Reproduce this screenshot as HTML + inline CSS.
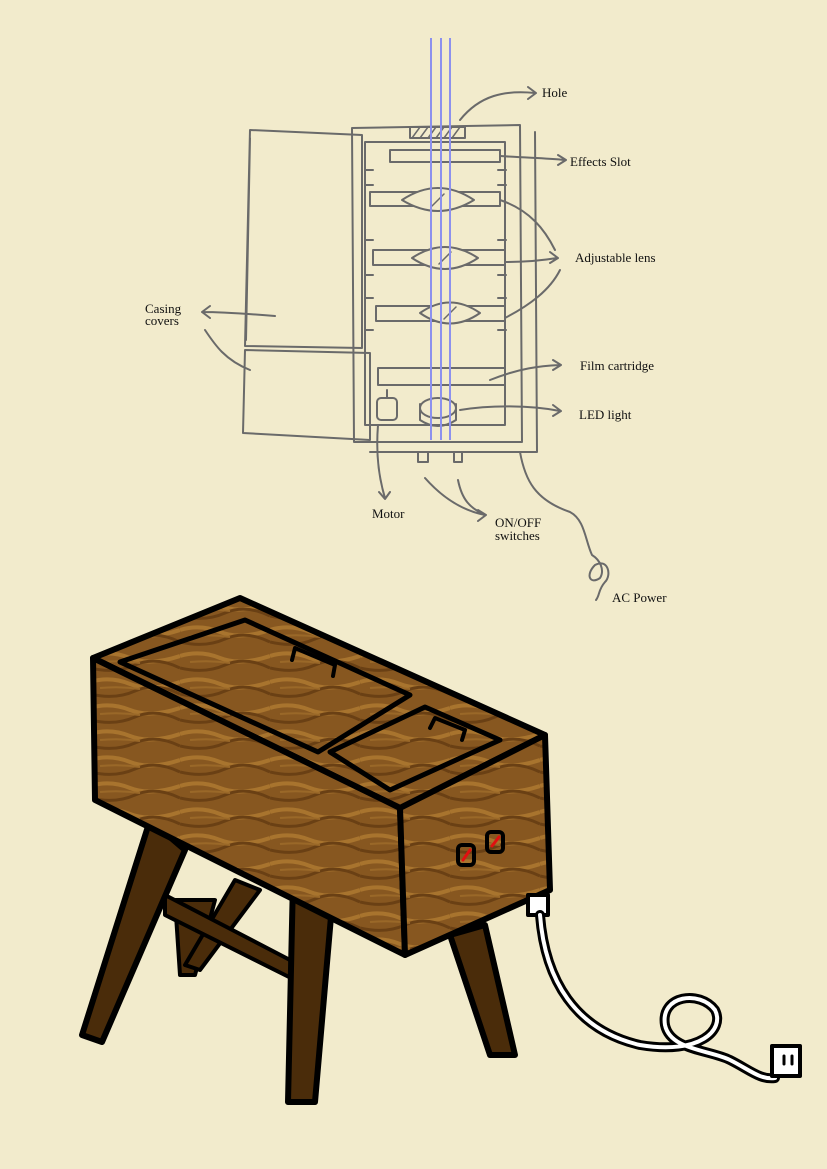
<!DOCTYPE html>
<html><head><meta charset="utf-8"><style>
html,body{margin:0;padding:0;background:#f2ebcc;}
svg{display:block}
text{font-family:"Liberation Serif",serif;font-size:13px;fill:#111;}
</style></head><body>
<svg width="827" height="1169" viewBox="0 0 827 1169" xmlns="http://www.w3.org/2000/svg">
<rect width="827" height="1169" fill="#f2ebcc"/>
<g fill="none" stroke="#6a6a6a" stroke-width="2" stroke-linejoin="round" stroke-linecap="round">
<path d="M250,130 L362,135 L362,348 L245,346 Z M250,138 L246,340"/>
<path d="M245,350 L370,353 L370,440 L243,433 Z"/>
<path d="M352,128 L520,125 L522,442 L354,442 Z"/>
<path d="M365,142 L505,142 L505,425 L365,425 Z"/>
<path d="M535,132 L537,452 L370,452"/>
<rect x="410" y="127" width="55" height="11" fill="#f2ebcc"/>
<path d="M412,138 L420,127 M420,138 L428,127 M428,138 L436,127 M436,138 L444,127 M444,138 L452,127 M452,138 L460,127" stroke-width="1.5"/>
<rect x="390" y="150" width="110" height="12"/>
<path d="M370,192 L500,192 L500,206 L370,206 Z"/>
<path d="M373,250 L505,250 L505,265 L373,265 Z"/>
<path d="M376,306 L505,306 L505,321 L376,321 Z"/>
<path d="M365,170 h8 M365,185 h8 M365,240 h8 M365,275 h8 M365,298 h8 M365,330 h8 M498,170 h8 M498,185 h8 M498,240 h8 M498,275 h8 M498,298 h8 M498,330 h8"/>
<path d="M402,200 Q438,176 474,200 Q438,222 402,200 Z" fill="#f2ebcc"/>
<path d="M412,258 Q445,236 478,258 Q445,280 412,258 Z" fill="#f2ebcc"/>
<path d="M420,313 Q450,292 480,313 Q450,334 420,313 Z" fill="#f2ebcc"/>
<path d="M432,206 L444,194 M439,264 L451,252 M444,319 L456,307" stroke-width="1.5"/>
<rect x="378" y="368" width="127" height="17"/>
<ellipse cx="438" cy="408" rx="18" ry="10"/>
<path d="M420,404 L420,420 Q438,432 456,420 L456,404"/>
<rect x="377" y="398" width="20" height="22" rx="4"/>
<path d="M387,398 L387,390"/>
<rect x="418" y="452" width="10" height="10"/><rect x="454" y="452" width="8" height="10"/>
<path d="M460,120 C480,95 505,90 535,93 M528,87 L536,93 L528,99"/>
<path d="M500,156 C530,158 545,158 565,160 M558,155 L566,160 L558,165"/>
<path d="M500,200 C530,210 545,230 555,250 M505,262 C530,262 545,260 557,258 M550,252 L558,258 L550,263 M505,318 C530,305 550,290 560,270"/>
<path d="M275,316 C250,314 220,312 203,312 M210,306 L202,312 L210,318 M250,370 C225,360 215,345 205,330"/>
<path d="M490,380 C520,368 540,366 560,365 M553,360 L561,365 L553,370"/>
<path d="M460,410 C490,405 530,405 560,411 M553,405 L561,411 L553,416"/>
<path d="M378,425 C376,450 378,475 385,498 M379,492 L385,499 L390,492"/>
<path d="M425,478 C440,495 460,510 485,515 M458,480 C462,500 470,508 485,515 M478,510 L486,515 L478,521"/>
<path d="M520,452 C525,480 535,500 570,512 C585,520 585,540 592,555 C600,560 605,570 600,578 C590,585 585,575 595,565 C608,558 612,575 605,582 C598,590 600,595 596,600"/>
</g>
<g stroke="#8c90ee" stroke-width="2">
<line x1="431" y1="38" x2="431" y2="440"/>
<line x1="441" y1="38" x2="441" y2="440"/>
<line x1="450" y1="38" x2="450" y2="440"/>
</g>
<text x="542" y="97">Hole</text>
<text x="570" y="166">Effects Slot</text>
<text x="575" y="262">Adjustable lens</text>
<text x="145" y="313">Casing</text>
<text x="145" y="325">covers</text>
<text x="580" y="370">Film cartridge</text>
<text x="579" y="419">LED light</text>
<text x="372" y="518">Motor</text>
<text x="495" y="527">ON/OFF</text>
<text x="495" y="540">switches</text>
<text x="612" y="602">AC Power</text>

<defs>
<pattern id="wood" width="90" height="26" patternUnits="userSpaceOnUse">
<rect width="90" height="26" fill="#875720"/>
<path d="M0,6 Q20,0 40,8 T90,6" stroke="#a8742e" stroke-width="4" fill="none"/>
<path d="M0,18 Q25,24 45,15 T90,18" stroke="#6a4014" stroke-width="3" fill="none"/>
<path d="M10,12 Q30,10 50,13" stroke="#9a6828" stroke-width="2" fill="none"/>
</pattern>
</defs>
<g stroke="#000" stroke-width="6" stroke-linejoin="round" stroke-linecap="round">
<path d="M175,900 L180,975 L195,975 L215,900 Z" fill="#4a2c0a" stroke-width="4"/>
<path d="M235,880 L185,965 L200,970 L260,890 Z" fill="#4a2c0a" stroke-width="4"/>
<path d="M165,895 L290,960 L295,980 L165,915 Z" fill="#4a2c0a" stroke-width="4"/>
<path d="M150,820 L82,1035 L102,1042 L185,850 Z" fill="#4a2c0a"/>
<path d="M293,880 L288,1102 L315,1102 L332,905 Z" fill="#4a2c0a"/>
<path d="M450,935 L490,1055 L515,1055 L485,925 Z" fill="#4a2c0a"/>
<path d="M93,658 L240,598 L545,735 L400,808 Z" fill="url(#wood)"/>
<path d="M93,658 L400,808 L405,955 L95,800 Z" fill="url(#wood)"/>
<path d="M400,808 L545,735 L550,890 L405,955 Z" fill="url(#wood)"/>
<path d="M120,662 L245,620 L410,695 L318,752 Z" fill="none" stroke-width="5"/>
<path d="M330,752 L425,707 L500,740 L390,790 Z" fill="none" stroke-width="5"/>
<path d="M292,660 L295,648 L335,665 L333,676" fill="none" stroke-width="4"/>
<path d="M430,728 L435,718 L465,730 L462,740" fill="none" stroke-width="4"/>
<rect x="458" y="845" width="16" height="20" rx="4" fill="none" stroke-width="4"/>
<rect x="487" y="832" width="16" height="20" rx="4" fill="none" stroke-width="4"/>
<path d="M463,860 L470,850 M492,846 L499,837" stroke="#e01010" stroke-width="3"/>
<rect x="528" y="895" width="20" height="20" fill="#fff" stroke-width="4"/>
<path d="M540,915 C545,980 575,1030 640,1045 C700,1055 725,1030 715,1010 C700,990 660,995 665,1025 C670,1050 710,1050 730,1060 C750,1070 760,1080 775,1078" fill="none" stroke-width="10"/>
<path d="M540,915 C545,980 575,1030 640,1045 C700,1055 725,1030 715,1010 C700,990 660,995 665,1025 C670,1050 710,1050 730,1060 C750,1070 760,1080 775,1078" fill="none" stroke="#fff" stroke-width="4"/>
<rect x="772" y="1046" width="28" height="30" fill="#fff" stroke-width="4"/>
<path d="M784,1056 v8 M792,1056 v8" stroke-width="3"/>
</g>
</svg>
</body></html>
